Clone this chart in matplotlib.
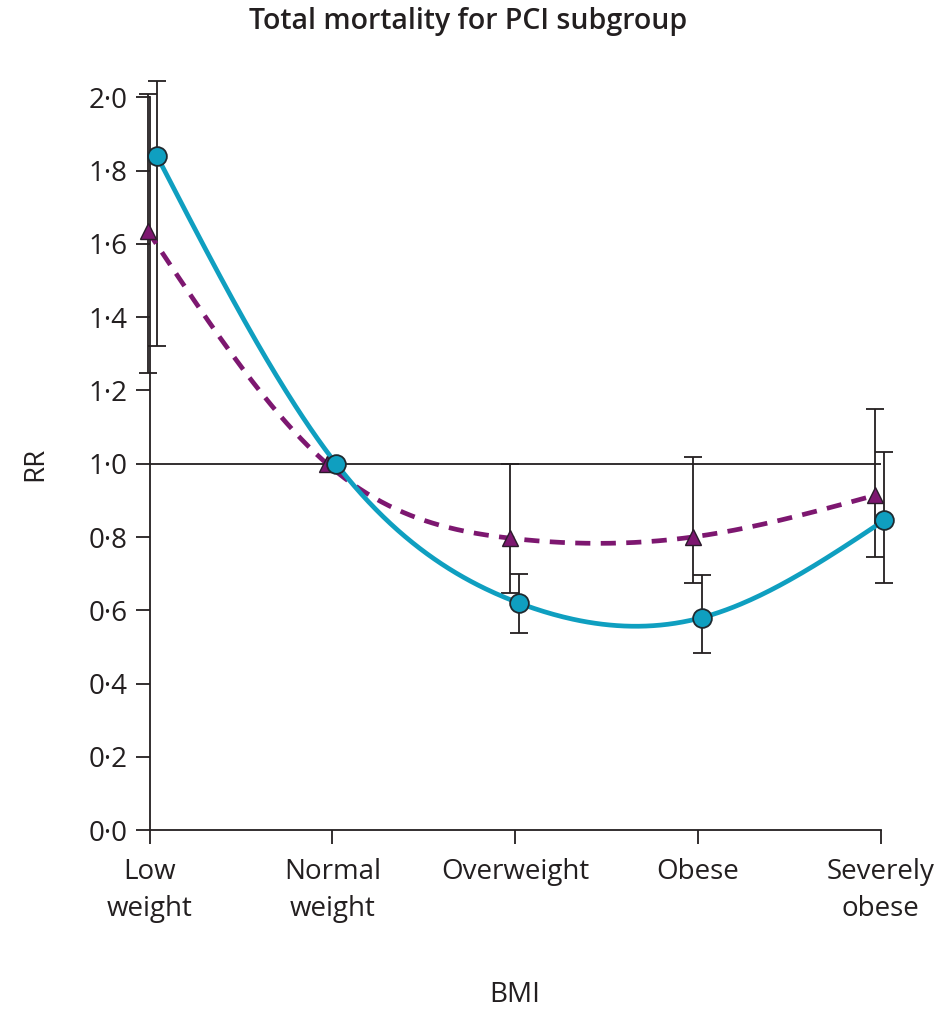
import numpy as np
import matplotlib
matplotlib.use('Agg')
import matplotlib.pyplot as plt

plt.rcParams['font.family'] = ['Open Sans', 'DejaVu Sans']

categories = ['Low\nweight', 'Normal\nweight', 'Overweight', 'Obese', 'Severely\nobese']
# circles (solid teal)
rr_circle = [1.84, 1.00, 0.62, 0.58, 0.846]
lo_circle = [1.32, np.nan, 0.537, 0.483, 0.674]
hi_circle = [2.044, np.nan, 0.70, 0.696, 1.031]
# triangles (dashed purple)
rr_tri = [1.635, 1.00, 0.797, 0.80, 0.914]
lo_tri = [1.247, np.nan, 0.647, 0.674, 0.745]
hi_tri = [2.01, np.nan, 1.0, 1.018, 1.149]
yticks = [0.0, 0.2, 0.4, 0.6, 0.8, 1.0, 1.2, 1.4, 1.6, 1.8, 2.0]

teal = '#0f9fc0'
purple = '#7d1770'
ink = '#231f20'


def natural_spline(x, y, n=300):
    # natural cubic spline, just to draw the smooth connecting line
    x = np.asarray(x, float); y = np.asarray(y, float)
    k = len(x)
    h = np.diff(x)
    A = np.zeros((k, k)); b = np.zeros(k)
    A[0, 0] = A[-1, -1] = 1
    for i in range(1, k - 1):
        A[i, i - 1] = h[i - 1]
        A[i, i] = 2 * (h[i - 1] + h[i])
        A[i, i + 1] = h[i]
        b[i] = 6 * ((y[i + 1] - y[i]) / h[i] - (y[i] - y[i - 1]) / h[i - 1])
    M = np.linalg.solve(A, b)
    xs = np.linspace(x[0], x[-1], n)
    idx = np.clip(np.searchsorted(x, xs) - 1, 0, k - 2)
    x0, x1 = x[idx], x[idx + 1]
    hh = x1 - x0
    t1 = x1 - xs; t0 = xs - x0
    ys = (M[idx] * t1**3 + M[idx + 1] * t0**3) / (6 * hh) \
        + (y[idx] / hh - M[idx] * hh / 6) * t1 \
        + (y[idx + 1] / hh - M[idx + 1] * hh / 6) * t0
    return xs, ys


fig = plt.figure(figsize=(9.41, 10.10), dpi=100)
ax = fig.add_axes([0.159, 0.178, 0.777, 0.7257])

x = np.arange(len(categories))
xc = x + np.array([0.04, 0.02, 0.02, 0.02, 0.02])
xt = x + np.array([-0.01, -0.03, -0.03, -0.03, -0.03])

ax.axhline(1.0, color=ink, lw=1.3, zorder=1)

rc = np.array(rr_circle); rt = np.array(rr_tri)
ec = [rc - np.array(lo_circle), np.array(hi_circle) - rc]
et = [rt - np.array(lo_tri), np.array(hi_tri) - rt]
ax.errorbar(xt, rt, yerr=et, fmt='none', ecolor=ink, elinewidth=1.3,
            capsize=6.5, capthick=1.3, zorder=2, clip_on=False)
ax.errorbar(xc, rc, yerr=ec, fmt='none', ecolor=ink, elinewidth=1.3,
            capsize=6.5, capthick=1.3, zorder=2, clip_on=False)

sx, sy = natural_spline(xt, rr_tri)
ax.plot(sx, sy, color=purple, lw=3.4, ls=(0, (3.2, 2.2)), zorder=3, clip_on=False)
sx, sy = natural_spline(xc, rr_circle)
ax.plot(sx, sy, color=teal, lw=3.4, zorder=4, clip_on=False)

ax.plot(xt, rr_tri, ls='none', marker='^', ms=11, mfc=purple, mec='#2a1a2a',
        mew=1.0, zorder=5, clip_on=False)
ax.plot(xc, rr_circle, ls='none', marker='o', ms=13.5, mfc=teal, mec='#1f2a30',
        mew=1.3, zorder=6, clip_on=False)

ax.set_xlim(0, 4)
ax.set_ylim(0, 2.0)
ax.set_xticks(x)
ax.set_xticklabels(categories, fontsize=20, color=ink, linespacing=1.45)
ax.set_yticks(yticks)
ax.set_yticklabels([f'{v:.1f}'.replace('.', '\u00b7') for v in yticks],
                   fontsize=20, color=ink)
ax.tick_params(axis='both', direction='out', length=10, width=1.3, color=ink)
ax.tick_params(axis='x', pad=10)
ax.tick_params(axis='y', pad=6)
for s in ['top', 'right']:
    ax.spines[s].set_visible(False)
for s in ['left', 'bottom']:
    ax.spines[s].set_linewidth(1.3)
    ax.spines[s].set_color(ink)

ax.set_ylabel('RR', fontsize=20, color=ink, labelpad=28)
fig.text(0.547, 0.015, 'BMI', fontsize=20, color=ink, ha='center', va='center')
fig.text(0.497, 0.979, 'Total mortality for PCI subgroup', fontsize=20.5,
         fontweight='semibold', color=ink, ha='center', va='center')

fig.savefig('out.png', dpi=100)
